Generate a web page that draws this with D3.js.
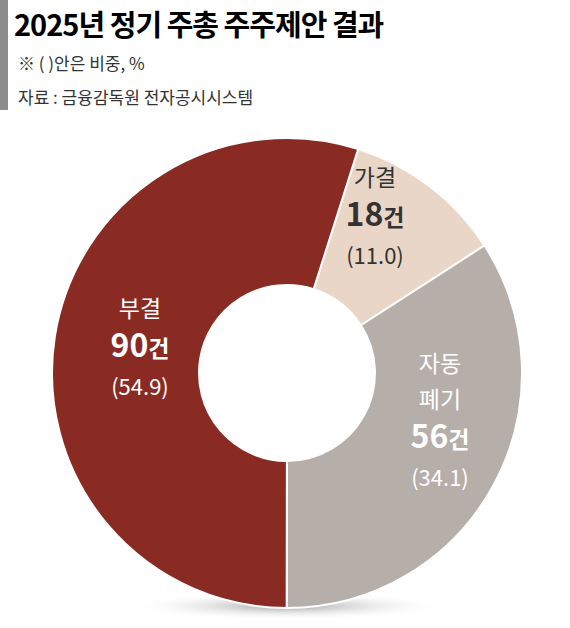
<!DOCTYPE html>
<html><head><meta charset="utf-8">
<script src="https://cdn.jsdelivr.net/npm/d3@7"></script>
<style>body{margin:0;background:#fff;font-family:"Noto Sans CJK KR","Noto Sans",sans-serif;}</style>
</head><body>
<svg width="570" height="628"></svg>
<script>
var labels = ["가결", "자동\n폐기", "부결"];
var counts = [18, 56, 90];
var shares = ["11.0", "34.1", "54.9"];
var colors = ["#ead6c7", "#b6aea9", "#8a2b23"];

var svg = d3.select("svg");
var cx = 287, cy = 373, R = 235, r = 88;

// title block
svg.append("rect").attr("x", 0).attr("y", 0).attr("width", 8).attr("height", 110).attr("fill", "#8c8c8c");
svg.append("text").attr("x", 14).attr("y", 36).attr("font-size", 29).attr("font-weight", 700)
  .attr("letter-spacing", -1).text("2025년 정기 주총 주주제안 결과");
svg.append("text").attr("x", 18).attr("y", 70).attr("font-size", 17).attr("fill", "#333").text("※ (   )안은 비중, %");
svg.append("text").attr("x", 18).attr("y", 104).attr("font-size", 17).attr("fill", "#333").text("자료 : 금융감독원 전자공시시스템");

// shadow
var defs = svg.append("defs");
var g = defs.append("radialGradient").attr("id", "sh");
g.append("stop").attr("offset", "0%").attr("stop-color", "#777").attr("stop-opacity", 0.7);
g.append("stop").attr("offset", "100%").attr("stop-color", "#fff").attr("stop-opacity", 0);
svg.append("ellipse").attr("cx", cx).attr("cy", 606).attr("rx", 160).attr("ry", 14).attr("fill", "url(#sh)");

var a0 = 2 * Math.PI * (0.549 - 0.5);
var pie = d3.pie().sort(null).value(function(d) { return d; })
  .startAngle(a0).endAngle(a0 + 2 * Math.PI);
var arcs = pie(counts);
var arc = d3.arc().innerRadius(r).outerRadius(R);
var chart = svg.append("g").attr("transform", "translate(" + cx + "," + cy + ")");
chart.selectAll("path").data(arcs).enter().append("path")
  .attr("d", arc).attr("fill", function(d, i) { return colors[i]; })
  .attr("stroke", "#fff").attr("stroke-width", 2);

// labels: [x, y of first number line]
var pos = [[88, -147], [153, 75], [-147, -16]];
var txtCol = ["#333", "#fff", "#fff"];
arcs.forEach(function(d, i) {
  var t = chart.append("text").attr("text-anchor", "middle").attr("fill", txtCol[i]);
  var lines = labels[i].split("\n");
  var x = pos[i][0];
  lines.forEach(function(l, j) {
    t.append("tspan").attr("x", x).attr("y", pos[i][1] - 40 - (lines.length - 1 - j) * 36)
      .attr("font-size", 23).text(l);
  });
  var num = t.append("tspan").attr("x", x).attr("y", pos[i][1]);
  num.append("tspan").attr("font-size", 32).attr("font-weight", 700).text(counts[i]);
  num.append("tspan").attr("font-size", 23).attr("font-weight", 700).text("건");
  t.append("tspan").attr("x", x).attr("y", pos[i][1] + 38)
    .attr("font-size", 22).text("(" + shares[i] + ")");
});
</script>
</body></html>
